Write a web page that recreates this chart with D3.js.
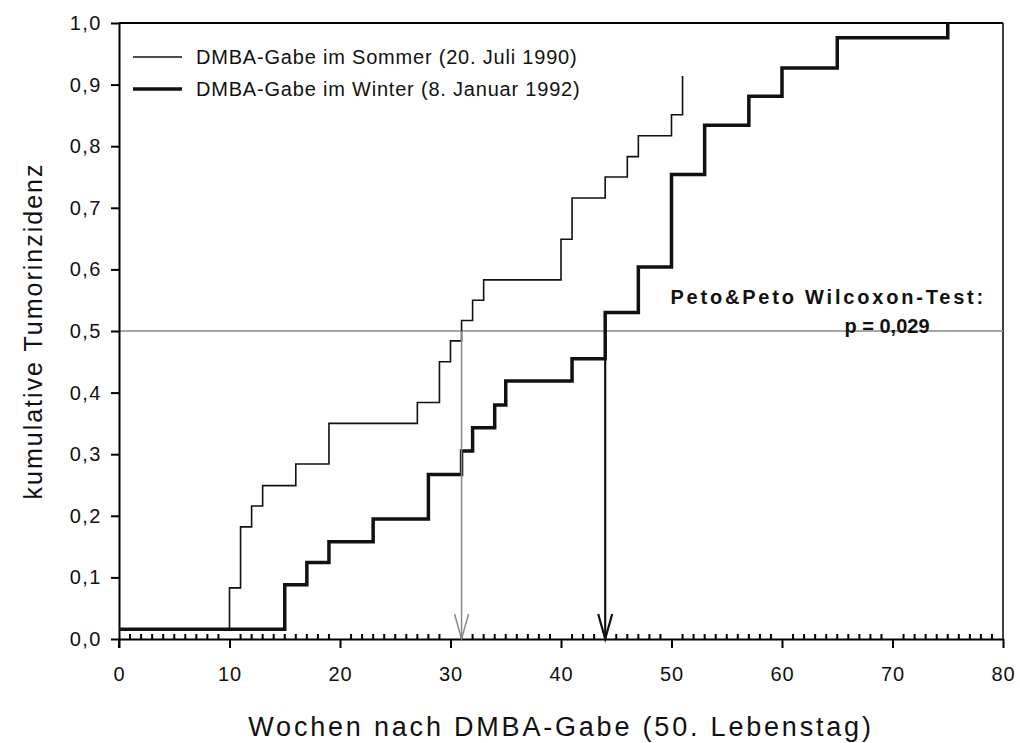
<!DOCTYPE html>
<html>
<head>
<meta charset="utf-8">
<script src="https://cdn.jsdelivr.net/npm/d3@7"></script>
<style>
    body { margin: 0; background: #fff; }
    svg text { font-family: "Liberation Sans", Arial, sans-serif; fill: #111; }
</style>
</head>
<body>
<div id="chart"></div>
<script>
// Summer group (20. Juli 1990) - weeks where a step happens and level after it
var summerWeeks = [0, 10, 11, 12, 13, 16, 19, 27, 29, 30, 31, 32, 33, 40, 41, 44, 46, 47, 50, 51];
var summerIncidence = [0.016, 0.083, 0.182, 0.216, 0.249, 0.284, 0.350, 0.384, 0.450, 0.484, 0.517, 0.550, 0.583, 0.649, 0.716, 0.750, 0.783, 0.817, 0.851, 0.914];

// Winter group (8. Januar 1992)
var winterWeeks = [0, 15, 17, 19, 23, 28, 31, 32, 34, 35, 41, 44, 47, 50, 53, 57, 60, 65, 75];
var winterIncidence = [0.016, 0.088, 0.124, 0.158, 0.195, 0.267, 0.305, 0.343, 0.380, 0.419, 0.455, 0.530, 0.604, 0.754, 0.834, 0.881, 0.927, 0.976, 1.0];

// median survival arrows (week) for summer / winter
var medianWeeks = [31, 44];
var medianLevel = 0.5;

var xTicks = [0, 10, 20, 30, 40, 50, 60, 70, 80];
var yTicks = [0, 0.1, 0.2, 0.3, 0.4, 0.5, 0.6, 0.7, 0.8, 0.9, 1.0];

var legendLabels = ["DMBA-Gabe im Sommer (20. Juli 1990)", "DMBA-Gabe im Winter (8. Januar 1992)"];
var testLabel = "Peto&Peto Wilcoxon-Test:";
var pLabel = "p = 0,029";

var width = 1020, height = 743;
var margin = { left: 119, right: 17, top: 23, bottom: 104 };

var svg = d3.select("#chart").append("svg")
    .attr("width", width)
    .attr("height", height);

var x = d3.scaleLinear().domain([0, 80]).range([margin.left, width - margin.right]);
var y = d3.scaleLinear().domain([0, 1]).range([height - margin.bottom, margin.top]);

function toPoints(weeks, vals) {
    return weeks.map(function (w, i) { return [w, vals[i]]; });
}

var stepLine = d3.line()
    .x(function (d) { return x(d[0]); })
    .y(function (d) { return y(d[1]); })
    .curve(d3.curveStepAfter);

// frame top / right
svg.append("line")
    .attr("x1", x(0)).attr("x2", x(80))
    .attr("y1", y(1)).attr("y2", y(1))
    .attr("stroke", "#000").attr("stroke-width", 2);
svg.append("line")
    .attr("x1", x(80)).attr("x2", x(80))
    .attr("y1", y(1)).attr("y2", y(0))
    .attr("stroke", "#000").attr("stroke-width", 1.5);

// 50% line
svg.append("line")
    .attr("x1", x(0)).attr("x2", x(80))
    .attr("y1", y(medianLevel)).attr("y2", y(medianLevel))
    .attr("stroke", "#8a8a8a").attr("stroke-width", 1.5);

// x axis: major ticks down, minor (weekly) ticks up
var xAxis = svg.append("g")
    .attr("transform", "translate(0," + y(0) + ")")
    .call(d3.axisBottom(x).tickValues(xTicks).tickSize(9).tickSizeOuter(0).tickPadding(19));
xAxis.select(".domain").attr("stroke-width", 2);
xAxis.selectAll(".tick line").attr("stroke-width", 2);
xAxis.selectAll(".tick text")
    .attr("font-size", 20)
    .style("font-family", "'Liberation Sans', Arial, sans-serif")
    .style("letter-spacing", "1px")
    .attr("fill", "#111");

var minorTicks = d3.range(1, 80).filter(function (w) { return w % 10 !== 0; });
svg.append("g").selectAll("line")
    .data(minorTicks)
    .join("line")
    .attr("x1", function (d) { return x(d); })
    .attr("x2", function (d) { return x(d); })
    .attr("y1", y(0))
    .attr("y2", y(0) - 5)
    .attr("stroke", "#000")
    .attr("stroke-width", 2);

// y axis
var yAxis = svg.append("g")
    .attr("transform", "translate(" + x(0) + ",0)")
    .call(d3.axisLeft(y).tickValues(yTicks).tickSize(8).tickSizeOuter(0).tickPadding(9)
        .tickFormat(function (d) { return d3.format(".1f")(d).replace(".", ","); }));
yAxis.select(".domain").attr("stroke-width", 2);
yAxis.selectAll(".tick line").attr("stroke-width", 2);
yAxis.selectAll(".tick text")
    .attr("font-size", 20)
    .style("font-family", "'Liberation Sans', Arial, sans-serif")
    .style("letter-spacing", "1.5px")
    .attr("fill", "#111");

// y axis line continues below to the 0 tick
svg.append("line")
    .attr("x1", x(0)).attr("x2", x(0))
    .attr("y1", y(0)).attr("y2", y(0) + 9)
    .attr("stroke", "#000").attr("stroke-width", 2);

// step curves
svg.append("path")
    .datum(toPoints(summerWeeks, summerIncidence))
    .attr("d", stepLine)
    .attr("fill", "none")
    .attr("stroke", "#111")
    .attr("stroke-width", 1.6);

svg.append("path")
    .datum(toPoints(winterWeeks, winterIncidence))
    .attr("d", stepLine)
    .attr("fill", "none")
    .attr("stroke", "#111")
    .attr("stroke-width", 3.5);

// median arrows
var arrowColors = ["#8a8a8a", "#111"];
var arrowWidths = [1.5, 2.2];
medianWeeks.forEach(function (w, i) {
    var g = svg.append("g")
        .attr("stroke", arrowColors[i])
        .attr("stroke-width", arrowWidths[i])
        .attr("fill", "none");
    g.append("line")
        .attr("x1", x(w)).attr("x2", x(w))
        .attr("y1", y(medianLevel)).attr("y2", y(0));
    g.append("path")
        .attr("d", "M" + (x(w) - 7) + "," + (y(0) - 25) + "L" + x(w) + "," + y(0) + "L" + (x(w) + 7) + "," + (y(0) - 25));
});

// legend
var legend = svg.append("g");
var legendWidths = [1.6, 3.5];
legendLabels.forEach(function (lab, i) {
    var ly = 57 + i * 32;
    legend.append("line")
        .attr("x1", 133).attr("x2", 182)
        .attr("y1", ly).attr("y2", ly)
        .attr("stroke", "#111")
        .attr("stroke-width", legendWidths[i]);
    legend.append("text")
        .attr("x", 196)
        .attr("y", ly)
        .attr("dy", "0.35em")
        .attr("font-size", 20)
        .style("letter-spacing", "0.8px")
        .text(lab);
});

// test annotation
svg.append("text")
    .attr("x", 986).attr("y", 304)
    .attr("text-anchor", "end")
    .attr("font-size", 20)
    .attr("font-weight", "bold")
    .style("letter-spacing", "2.8px")
    .text(testLabel);
svg.append("text")
    .attr("x", 887).attr("y", 333)
    .attr("text-anchor", "middle")
    .attr("font-size", 20)
    .attr("font-weight", "bold")
    .text(pLabel);

// axis titles
svg.append("text")
    .attr("x", (x(0) + x(80)) / 2)
    .attr("y", 736)
    .attr("text-anchor", "middle")
    .attr("font-size", 27)
    .style("letter-spacing", "2.8px")
    .text("Wochen nach DMBA-Gabe (50. Lebenstag)");

svg.append("text")
    .attr("transform", "translate(33," + ((y(0) + y(1)) / 2) + ") rotate(-90)")
    .attr("text-anchor", "middle")
    .attr("font-size", 25)
    .attr("dy", "0.35em")
    .style("letter-spacing", "2px")
    .text("kumulative Tumorinzidenz");
</script>
</body>
</html>
